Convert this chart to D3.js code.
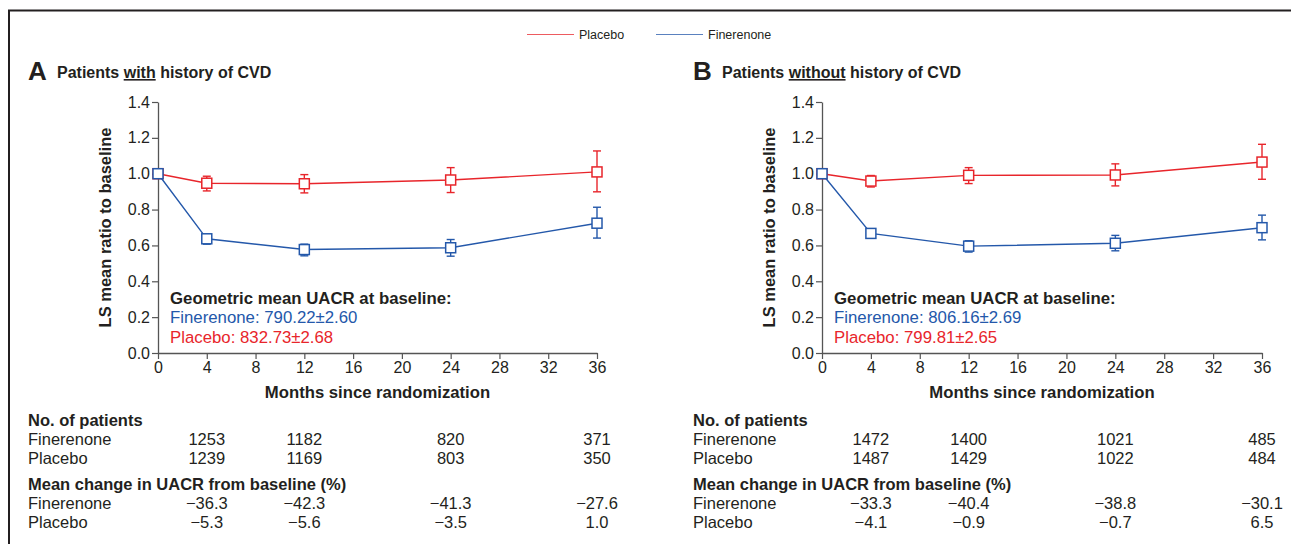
<!DOCTYPE html>
<html>
<head>
<meta charset="utf-8">
<script src="https://cdn.jsdelivr.net/npm/d3@7"></script>
<style>
  html, body { margin: 0; padding: 0; background: #fff; }
  svg { display: block; font-family: "Liberation Sans", Arial, Helvetica, sans-serif; }
</style>
</head>
<body>
<svg id="chart" width="1291" height="544"></svg>
<script>
// Visit months and axis ticks
const months = [0, 4, 12, 24, 36];
const followUp = [4, 12, 24, 36];
const xTicks = [0, 4, 8, 12, 16, 20, 24, 28, 32, 36];
const yTicks = [0, 0.2, 0.4, 0.6, 0.8, 1.0, 1.2, 1.4];

// Panel A: patients with history of CVD
const aFinChange = [-36.3, -42.3, -41.3, -27.6];
const aPlaChange = [-5.3, -5.6, -3.5, 1.0];
const aFinLo = [0.607, 0.542, 0.540, 0.641];
const aFinHi = [0.661, 0.607, 0.633, 0.813];
const aPlaLo = [0.904, 0.893, 0.895, 0.899];
const aPlaHi = [0.986, 0.995, 1.034, 1.127];
const aFinN = [1253, 1182, 820, 371];
const aPlaN = [1239, 1169, 803, 350];
const aBaseline = ["790.22±2.60", "832.73±2.68"];

// Panel B: patients without history of CVD
const bFinChange = [-33.3, -40.4, -38.8, -30.1];
const bPlaChange = [-4.1, -0.9, -0.7, 6.5];
const bFinLo = [0.645, 0.563, 0.570, 0.631];
const bFinHi = [0.681, 0.626, 0.656, 0.769];
const bPlaLo = [0.926, 0.945, 0.932, 0.969];
const bPlaHi = [0.990, 1.034, 1.055, 1.164];
const bFinN = [1472, 1400, 1021, 485];
const bPlaN = [1487, 1429, 1022, 484];
const bBaseline = ["806.16±2.69", "799.81±2.65"];

const RED = "#e8252b";
const BLUE = "#2458aa";
const INK = "#231f20";

const svg = d3.select("#chart");

// Outer frame (top and left rules)
svg.append("path")
  .attr("d", "M9,544 V10.5 H1291")
  .attr("fill", "none").attr("stroke", INK).attr("stroke-width", 2);

// Legend
const legend = [
  { name: "Placebo", color: RED, x: 527 },
  { name: "Finerenone", color: BLUE, x: 656 }
];
legend.forEach(d => {
  svg.append("line").attr("x1", d.x).attr("x2", d.x + 47).attr("y1", 34.5).attr("y2", 34.5)
    .attr("stroke", d.color).attr("stroke-width", 1).attr("opacity", 0.75);
  svg.append("text").attr("x", d.x + 52).attr("y", 39).attr("font-size", 12.5)
    .attr("fill", INK).text(d.name);
});

const fmtPct = d3.format(".1f");

function panel(cfg) {
  const x = d3.scaleLinear().domain([0, 36]).range([cfg.x0, cfg.x1]);
  const y = d3.scaleLinear().domain([0, 1.4]).range([353, 102]);
  const g = svg.append("g");

  // Panel letter and heading
  g.append("text").attr("x", cfg.lx).attr("y", 80).attr("font-size", 26).attr("font-weight", "bold")
    .attr("fill", INK).text(cfg.letter);
  const head = g.append("text").attr("x", cfg.lx + 29).attr("y", 78).attr("font-size", 16)
    .attr("font-weight", "bold").attr("fill", INK);
  head.append("tspan").text("Patients ");
  head.append("tspan").attr("text-decoration", "underline").text(cfg.word);
  head.append("tspan").text(" history of CVD");

  // Axes
  const yAxis = g.append("g").attr("transform", `translate(${cfg.x0},0)`)
    .call(d3.axisLeft(y).tickValues(yTicks).tickFormat(d3.format(".1f")).tickSize(6).tickSizeOuter(0));
  const xAxis = g.append("g").attr("transform", "translate(0,353)")
    .call(d3.axisBottom(x).tickValues(xTicks).tickFormat(d3.format("d")).tickSize(6).tickSizeOuter(0));
  [yAxis, xAxis].forEach(a => {
    a.select(".domain").attr("stroke", "#555").attr("stroke-width", 1.3);
    a.selectAll(".tick line").attr("stroke", "#555").attr("stroke-width", 1.2);
    a.selectAll(".tick text").attr("fill", INK).attr("font-size", 16)
      .attr("font-family", "Liberation Sans, Arial, sans-serif");
  });
  yAxis.selectAll(".tick text").attr("x", -8);
  xAxis.selectAll(".tick text").attr("y", 9);

  g.append("text")
    .attr("transform", `translate(${cfg.x0 - 47},${(102 + 353) / 2}) rotate(-90)`)
    .attr("text-anchor", "middle").attr("font-size", 16.5).attr("font-weight", "bold")
    .attr("fill", INK).text("LS mean ratio to baseline");
  g.append("text").attr("x", (cfg.x0 + cfg.x1) / 2).attr("y", 398)
    .attr("text-anchor", "middle").attr("font-size", 16.7).attr("font-weight", "bold")
    .attr("fill", INK).text("Months since randomization");

  // Series: ratio to baseline derived from mean % change
  const series = [
    { color: RED, change: cfg.plaChange, lo: cfg.plaLo, hi: cfg.plaHi },
    { color: BLUE, change: cfg.finChange, lo: cfg.finLo, hi: cfg.finHi }
  ];
  const line = d3.line().x(d => x(d.m)).y(d => y(d.v));
  series.forEach(s => {
    const pts = [{ m: 0, v: 1, lo: null, hi: null }].concat(
      followUp.map((m, i) => ({ m, v: 1 + s.change[i] / 100, lo: s.lo[i], hi: s.hi[i] })));
    g.append("path").datum(pts).attr("d", line).attr("fill", "none")
      .attr("stroke", s.color).attr("stroke-width", 1.4);
    const eb = g.append("g").selectAll("g").data(pts.filter(p => p.lo !== null)).join("g")
      .attr("stroke", s.color).attr("stroke-width", 1.4);
    eb.append("line").attr("x1", d => x(d.m)).attr("x2", d => x(d.m))
      .attr("y1", d => y(d.lo)).attr("y2", d => y(d.hi));
    eb.append("line").attr("x1", d => x(d.m) - 4).attr("x2", d => x(d.m) + 4)
      .attr("y1", d => y(d.lo)).attr("y2", d => y(d.lo));
    eb.append("line").attr("x1", d => x(d.m) - 4).attr("x2", d => x(d.m) + 4)
      .attr("y1", d => y(d.hi)).attr("y2", d => y(d.hi));
    g.append("g").selectAll("rect").data(pts).join("rect")
      .attr("x", d => x(d.m) - 5).attr("y", d => y(d.v) - 5)
      .attr("width", 10).attr("height", 10)
      .attr("fill", "#fff").attr("stroke", s.color).attr("stroke-width", 1.5);
  });

  // Baseline UACR note
  const nx = cfg.x0 + 12;
  g.append("text").attr("x", nx).attr("y", 304).attr("font-size", 16.8).attr("font-weight", "bold")
    .attr("fill", INK).text("Geometric mean UACR at baseline:");
  g.append("text").attr("x", nx).attr("y", 323).attr("font-size", 16.8).attr("fill", BLUE)
    .text("Finerenone: " + cfg.baseline[0]);
  g.append("text").attr("x", nx).attr("y", 343).attr("font-size", 16.8).attr("fill", RED)
    .text("Placebo: " + cfg.baseline[1]);

  // Table below the plot
  const tx = cfg.lx;
  const rows = [
    { y: 426, label: "No. of patients", bold: true },
    { y: 445, label: "Finerenone", vals: cfg.finN.map(String) },
    { y: 464, label: "Placebo", vals: cfg.plaN.map(String) },
    { y: 490, label: "Mean change in UACR from baseline (%)", bold: true },
    { y: 509, label: "Finerenone", vals: cfg.finChange.map(fmtPct) },
    { y: 528, label: "Placebo", vals: cfg.plaChange.map(fmtPct) }
  ];
  rows.forEach(r => {
    g.append("text").attr("x", tx).attr("y", r.y).attr("font-size", 16.5)
      .attr("font-weight", r.bold ? "bold" : "normal").attr("fill", INK).text(r.label);
    if (r.vals) {
      g.append("g").selectAll("text").data(r.vals).join("text")
        .attr("x", (d, i) => x(followUp[i])).attr("y", r.y).attr("text-anchor", "middle")
        .attr("font-size", 16.5).attr("fill", INK).text(d => d);
    }
  });
}

panel({
  letter: "A", word: "with", lx: 28, x0: 158, x1: 597,
  finChange: aFinChange, plaChange: aPlaChange,
  finLo: aFinLo, finHi: aFinHi, plaLo: aPlaLo, plaHi: aPlaHi,
  finN: aFinN, plaN: aPlaN, baseline: aBaseline
});
panel({
  letter: "B", word: "without", lx: 693, x0: 822, x1: 1262,
  finChange: bFinChange, plaChange: bPlaChange,
  finLo: bFinLo, finHi: bFinHi, plaLo: bPlaLo, plaHi: bPlaHi,
  finN: bFinN, plaN: bPlaN, baseline: bBaseline
});
</script>
</body>
</html>
